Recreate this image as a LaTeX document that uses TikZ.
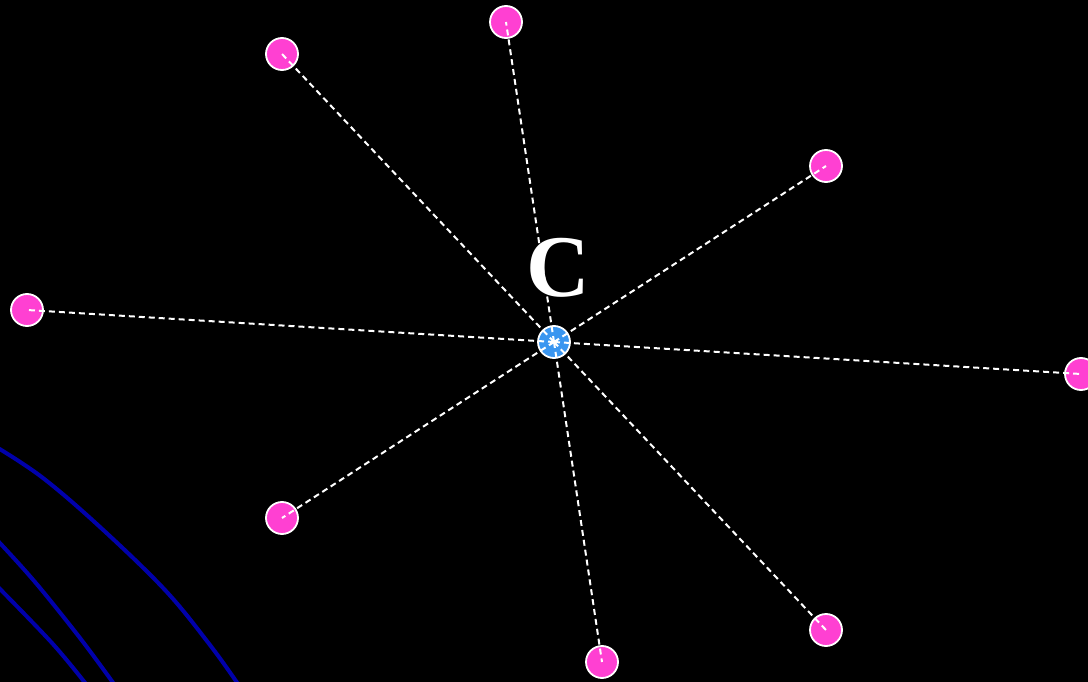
\documentclass[tikz,border=0pt]{standalone}
\usepackage{fontspec}
\setmainfont{Liberation Serif}
\begin{document}
\begin{tikzpicture}[x=1pt,y=-1pt,
  leaf/.style={circle,fill=pinkc,draw=white,line width=1.8pt,minimum size=32pt,inner sep=0pt},
  hub/.style={circle,fill=bluec,draw=white,line width=1.8pt,minimum size=32pt,inner sep=0pt},
  link/.style={white,line width=2pt,dash pattern=on 6pt off 4pt},
  arc/.style={draw=arcblue,line width=4pt}]
\definecolor{pinkc}{HTML}{FF40D2}
\definecolor{bluec}{HTML}{3A96F0}
\definecolor{arcblue}{HTML}{0000AA}
\fill[black] (0,0) rectangle (1088,682);
\useasboundingbox (0,0) rectangle (1088,682);
% arcs
\draw[arc] plot[smooth,tension=0.6] coordinates {(-2,448) (43,478) (100,527) (165,590) (210,645) (238,684)};
\draw[arc] plot[smooth,tension=0.6] coordinates {(-2,541) (35,582) (80,638) (114,684)};
\draw[arc] plot[smooth,tension=0.6] coordinates {(-2,587) (52,643) (86,684)};
% nodes
\node[hub] (c) at (554,342) {};
\node[leaf] (n1) at (282,54) {};
\node[leaf] (n2) at (506,22) {};
\node[leaf] (n3) at (826,166) {};
\node[leaf] (n4) at (27,310) {};
\node[leaf] (n5) at (1081,374) {};
\node[leaf] (n6) at (282,518) {};
\node[leaf] (n7) at (602,662) {};
\node[leaf] (n8) at (826,630) {};
\node[text=white,font=\bfseries\fontsize{88}{88}\selectfont] (lab) at (558,268) {C};
% links
\foreach \n in {n1,n2,n3,n4,n5,n6,n7,n8}
  \draw[link] (c.center) -- (\n.center);
\end{tikzpicture}
\end{document}
